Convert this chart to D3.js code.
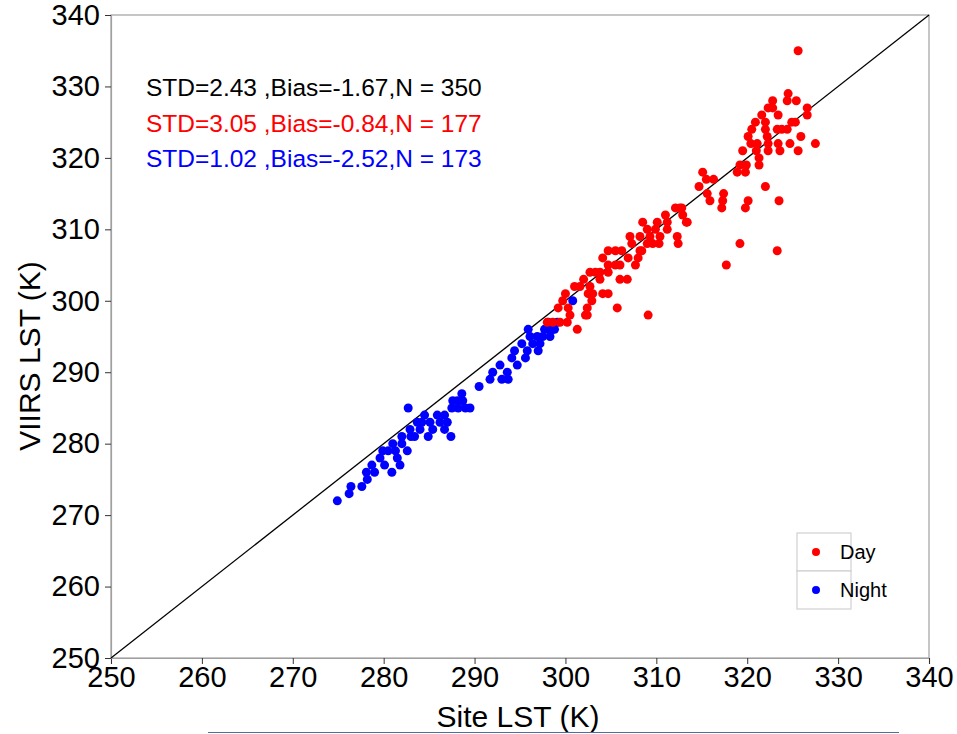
<!DOCTYPE html>
<html lang="en">
<head>
<meta charset="UTF-8">
<title>VIIRS LST vs Site LST</title>
<script src="https://d3js.org/d3.v7.min.js"></script>
<style>
  body { margin: 0; background: #fff; }
  text { font-family: "Liberation Sans", Arial, sans-serif; }
</style>
</head>
<body>
<div id="chart"></div>
<script>
// night points (blue)
const nightSite = [274.9,276.2,276.4,277.6,278.2,278.1,278.7,279.0,279.6,280.1,280.9,280.5,281.5,281.0,282.0,282.6,282.0,282.9,282.7,283.4,
  283.7,284.0,284.9,284.5,285.1,285.4,285.9,286.2,286.7,287.4,286.7,287.0,287.5,288.1,288.6,289.0,288.2,288.7,289.5,287.6,
  290.5,291.7,292.0,292.8,293.6,293.7,293.0,294.1,294.7,294.4,295.2,295.6,295.8,295.9,296.1,296.4,297.0,296.9,297.2,297.5,
  297.7,298.3,298.3,298.8,299.1,298.1,300.8,298.6,281.3,281.8,279.9,283.0,284.2];
const nightViirs = [272,273,274,274,275,276,277,276,278,277,276,279,278,280,280,279,281,282,285,281,
  283,282,281,284,283,282,284,283,282,281,284,283,285,286,287,285,285,286,285,286,
  288,289,290,291,290,289,289,292,291,293,294,292,293,296,295,294,293,295,294,295,
  296,296,295,296,297,297,300,296,279,277,279,281,283];

// day points (red)
const daySite = [301.3,298.0,298.6,299.4,300.2,309.1,300.5,302.4,302.2,299.2,300.3,302.4,305.7,299.7,302.9,300.0,302.5,303.0,304.1,304.7,
  301.0,301.6,302.7,302.0,303.8,306.0,306.8,302.7,303.3,303.8,304.7,304.7,305.5,306.0,307.7,304.1,306.9,308.0,304.7,305.5,
  306.2,308.2,307.3,309.0,309.6,310.3,312.4,319.2,307.1,308.2,309.3,310.4,312.3,309.0,309.9,311.2,308.5,310.1,311.2,313.4,
  311.0,312.9,312.1,312.6,317.2,319.8,317.7,323.3,315.6,317.4,315.9,317.3,320.1,323.5,314.7,322.0,315.5,316.3,315.1,318.9,
  319.8,319.2,319.9,321.3,321.3,319.5,321.0,322.3,323.6,325.6,320.4,321.1,322.3,323.4,324.7,327.5,320.1,322.2,325.9,320.5,
  322.0,323.3,323.8,324.4,320.9,322.0,324.9,325.3,321.6,323.4,326.6,322.3,322.8,326.6,322.8,324.4,325.4,324.5,325.6,308.4,
  312.8,313.3];
const dayViirs = [296,297,297,297,297,298,298,298,298,299,299,299,299,300,300,301,301,301,301,301,
  302,302,302,303,303,303,303,304,304,304,304,305,305,305,305,306,306,306,307,307,
  307,307,308,308,308,308,308,308,309,309,309,309,309,310,310,310,311,311,311,311,
  312,312,313,313,313,313,305,307,315,315,314,314,314,314,316,316,317,317,318,318,
  318,319,319,319,320,321,321,321,321,321,322,322,322,322,322,322,323,323,323,324,
  324,324,324,324,325,325,325,325,326,326,326,327,327,327,328,328,328,329,335,307,
  313,311];

const ticks = [250,260,270,280,290,300,310,320,330,340];
const statLines = ["STD=2.43 ,Bias=-1.67,N = 350", "STD=3.05 ,Bias=-0.84,N = 177", "STD=1.02 ,Bias=-2.52,N = 173"];
const statColors = ["#000000", "#ff0000", "#0000ff"];
const legendLabels = ["Day", "Night"];
const legendColors = ["#ff0000", "#0000ff"];

const W = 957, H = 734;
const margin = { top: 15, right: 28, bottom: 76, left: 111 };
const innerW = W - margin.left - margin.right;
const innerH = H - margin.top - margin.bottom;

const svg = d3.select("#chart").append("svg")
  .attr("width", W).attr("height", H);

const x = d3.scaleLinear().domain([250, 340]).range([0, innerW]);
const y = d3.scaleLinear().domain([250, 340]).range([innerH, 0]);

const g = svg.append("g").attr("transform", `translate(${margin.left},${margin.top})`);

// panel border
g.append("rect")
  .attr("width", innerW).attr("height", innerH)
  .attr("fill", "none").attr("stroke", "#a0a0a0").attr("stroke-width", 1.2);

// axes
const xAxis = g.append("g").attr("transform", `translate(0,${innerH})`)
  .call(d3.axisBottom(x).tickValues(ticks).tickSize(6).tickPadding(2).tickFormat(d3.format("d")));
const yAxis = g.append("g")
  .call(d3.axisLeft(y).tickValues(ticks).tickSize(6).tickPadding(5).tickFormat(d3.format("d")));
[xAxis, yAxis].forEach(a => {
  a.select(".domain").attr("stroke", "#a0a0a0").attr("stroke-width", 1.2);
  a.selectAll(".tick line").attr("stroke", "#333");
  a.selectAll(".tick text").attr("fill", "#000").style("font-size", "29px")
    .style("font-family", "'Liberation Sans', Arial, sans-serif");
});

// 1:1 line
g.append("line")
  .attr("x1", x(250)).attr("y1", y(250)).attr("x2", x(340)).attr("y2", y(340))
  .attr("stroke", "#000").attr("stroke-width", 1.3);

// points
const r = 4.5;
g.append("g").selectAll("circle.night")
  .data(d3.zip(nightSite, nightViirs)).join("circle")
  .attr("cx", d => x(d[0])).attr("cy", d => y(d[1])).attr("r", r).attr("fill", "#0000ff");
g.append("g").selectAll("circle.day")
  .data(d3.zip(daySite, dayViirs)).join("circle")
  .attr("cx", d => x(d[0])).attr("cy", d => y(d[1])).attr("r", r).attr("fill", "#ff0000");

// stats text
g.selectAll("text.stat").data(statLines).join("text")
  .attr("x", 35).attr("y", (d, i) => 81 + i * 35.5)
  .attr("fill", (d, i) => statColors[i])
  .style("font-size", "24.5px")
  .text(d => d);

// legend
const lg = g.append("g").attr("transform", `translate(${686},${518})`);
legendLabels.forEach((lab, i) => {
  lg.append("rect").attr("x", 0).attr("y", i * 38).attr("width", 54).attr("height", 38)
    .attr("fill", "#fff").attr("stroke", "#d0d0d0").attr("stroke-width", 1.2);
  lg.append("circle").attr("cx", 19).attr("cy", i * 38 + 19).attr("r", 4).attr("fill", legendColors[i]);
  lg.append("text").attr("x", 43).attr("y", i * 38 + 26).style("font-size", "20px").text(lab);
});

// axis titles
svg.append("text")
  .attr("x", margin.left + innerW / 2 - 2).attr("y", 727)
  .attr("text-anchor", "middle").style("font-size", "30px").text("Site LST (K)");
svg.append("text")
  .attr("transform", `translate(40,${356}) rotate(-90)`)
  .attr("text-anchor", "middle").style("font-size", "30px").text("VIIRS LST (K)");

// thin rule under the chart
svg.append("line")
  .attr("x1", 208).attr("x2", 899).attr("y1", 732.5).attr("y2", 732.5)
  .attr("stroke", "#4f6f9f").attr("stroke-width", 1);
</script>
</body>
</html>
